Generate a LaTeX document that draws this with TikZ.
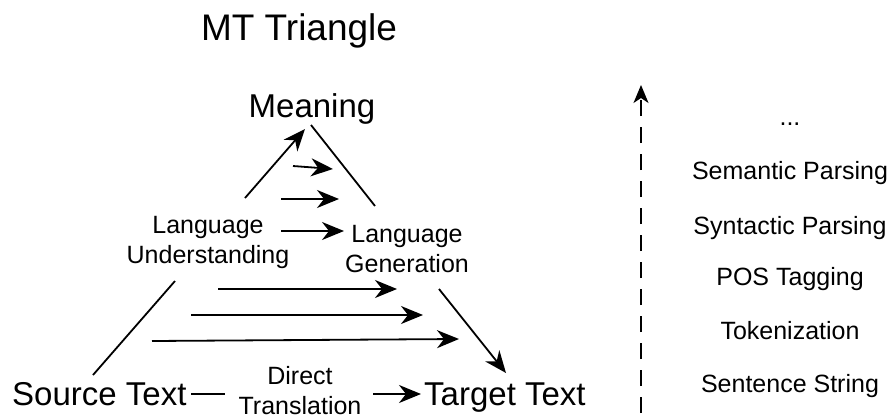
\documentclass[tikz,border=0pt]{standalone}
\usepackage{fontspec}
\setmainfont{Liberation Sans}
\usetikzlibrary{arrows.meta}
\begin{document}
\begin{tikzpicture}[x=1pt,y=-1pt,
  title/.style={font=\fontsize{37}{44}\selectfont, inner sep=0pt, anchor=base},
  big/.style={font=\fontsize{33}{40}\selectfont, inner sep=0pt, anchor=base},
  mid/.style={font=\fontsize{25}{29.5}\selectfont, inner sep=0pt, anchor=base, align=center},
  conn/.style={line width=1.8pt},
  arr/.style={conn, -{Stealth[length=22pt,width=18pt,inset=7pt]}},
  dasharr/.style={line width=1.5pt, dash pattern=on 16pt off 11pt, -{Stealth[length=18pt,width=15pt,inset=5pt]}}
]
\useasboundingbox (0,0) rectangle (893,418);

% texts
\node[title] (title) at (299,40) {MT Triangle};
\node[big] (meaning) at (312,117) {Meaning};
\node[big, anchor=base west] (source) at (12,405) {Source Text};
\node[big, anchor=base west] (target) at (424,405) {Target Text};
\node[mid] (lu) at (208,263) {Language\\Understanding};
\node[mid] (lg) at (407,272) {Language\\Generation};
\node[mid] (dt) at (300,414) {Direct\\Translation};

\node[mid] (dots) at (790,125) {...};
\node[mid] (sem) at (790,179) {Semantic Parsing};
\node[mid] (syn) at (790,234) {Syntactic Parsing};
\node[mid] (pos) at (790,285) {POS Tagging};
\node[mid] (tok) at (790,339) {Tokenization};
\node[mid] (sent) at (790,392) {Sentence String};

% connector end points
\coordinate (luTop) at (245,198);
\coordinate (meanL) at (305,129);
\coordinate (meanR) at (311,125);
\coordinate (lgTop) at (375,206);
\coordinate (luBot) at (175,281);
\coordinate (srcTop) at (93,375);
\coordinate (lgBot) at (439,289);
\coordinate (tgtTop) at (506,373);
\coordinate (srcR) at (191,394);
\coordinate (dtL) at (225,394);
\coordinate (dtR) at (373,394);
\coordinate (tgtL) at (421,394);
\coordinate (a1s) at (293,166); \coordinate (a1e) at (333,169);
\coordinate (a2s) at (281,199); \coordinate (a2e) at (339,199);
\coordinate (a3s) at (281,231); \coordinate (a3e) at (344,231);
\coordinate (a4s) at (218,289); \coordinate (a4e) at (397,289);
\coordinate (a5s) at (191,315); \coordinate (a5e) at (423,315);
\coordinate (a6s) at (152,341); \coordinate (a6e) at (459,339);
\coordinate (lvBot) at (641,413);
\coordinate (lvTop) at (641,85);

% triangle
\draw[arr] (luTop) -- (meanL);
\draw[conn] (meanR) -- (lgTop);
\draw[conn] (luBot) -- (srcTop);
\draw[arr] (lgBot) -- (tgtTop);
\draw[conn] (srcR) -- (dtL);
\draw[arr] (dtR) -- (tgtL);

% transfer arrows
\draw[arr] (a1s) -- (a1e);
\draw[arr] (a2s) -- (a2e);
\draw[arr] (a3s) -- (a3e);
\draw[arr] (a4s) -- (a4e);
\draw[arr] (a5s) -- (a5e);
\draw[arr] (a6s) -- (a6e);

% levels axis
\draw[dasharr] (lvBot) -- (lvTop);
\end{tikzpicture}
\end{document}
